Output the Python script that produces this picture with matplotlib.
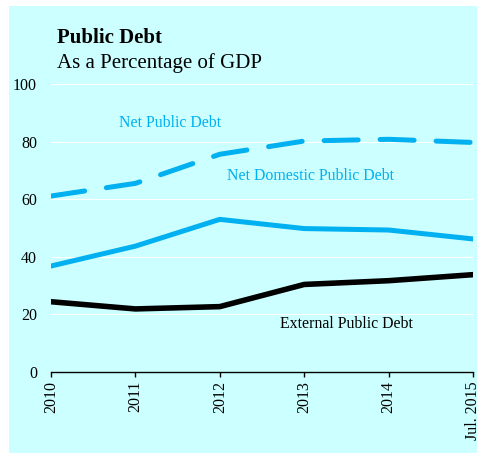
import matplotlib
matplotlib.use("Agg")
import matplotlib.pyplot as plt
from matplotlib.patches import Rectangle

plt.rcParams['font.family'] = ['Liberation Serif', 'DejaVu Serif']

years = ["2010", "2011", "2012", "2013", "2014", "Jul. 2015"]
net_public = [61.1, 65.5, 75.6, 80.2, 80.8, 79.7]
net_domestic = [36.8, 43.7, 53.0, 49.8, 49.3, 46.2]
external = [24.4, 21.9, 22.7, 30.4, 31.7, 33.8]
y_ticks = [0, 20, 40, 60, 80, 100]

bg = "#ccffff"
cyan = "#00b0f0"

fig = plt.figure(figsize=(4.78, 4.55), dpi=100)
fig.patch.set_facecolor("white")
panel = Rectangle((9 / 478, 1 - 453 / 455), (477 - 9) / 478, (453 - 6) / 455,
                  transform=fig.transFigure, facecolor=bg, edgecolor="none", zorder=-10)
fig.patches.append(panel)

ax = fig.add_axes([51 / 478, 83 / 455, (473 - 51) / 478, (372 - 84) / 455])
ax.set_zorder(5)
ax.set_facecolor("none")

x = list(range(len(years)))
ax.plot(x, net_public, color=cyan, lw=3.6, dashes=(6.8, 4.4), dash_capstyle="round",
        solid_capstyle="round", zorder=3)
ax.plot(x, net_domestic, color=cyan, lw=3.6, solid_capstyle="round", zorder=3)
ax.plot(x, external, color="black", lw=4.0, solid_capstyle="round", zorder=3)

ax.set_xlim(0, 5)
ax.set_ylim(0, 100)
ax.set_yticks(y_ticks)
ax.set_yticklabels([str(v) for v in y_ticks], fontsize=11.5)
ax.set_xticks(x)
ax.set_xticklabels(years, rotation=90, fontsize=11.5, va="top", ha="center")

for v in y_ticks[1:]:
    ax.axhline(v, color="white", lw=0.8, zorder=1)

for s in ["top", "right", "left"]:
    ax.spines[s].set_visible(False)
ax.spines["bottom"].set_color("black")
ax.spines["bottom"].set_linewidth(1.0)
ax.spines["bottom"].set_zorder(4)
ax.tick_params(axis="y", length=0, pad=10)
ax.tick_params(axis="x", length=3.5, width=1.0, direction="out", pad=3)

ax.text(1.41, 86.5, "Net Public Debt", color=cyan, fontsize=11.4, ha="center", va="center")
ax.text(3.07, 68.1, "Net Domestic Public Debt", color=cyan, fontsize=11.4, ha="center", va="center")
ax.text(3.5, 16.7, "External Public Debt", color="black", fontsize=11.4, ha="center", va="center")

fig.text(57 / 478, 1 - 38 / 455, "Public Debt", fontsize=15, fontweight="bold", ha="left", va="center")
fig.text(57 / 478, 1 - 63 / 455, "As a Percentage of GDP", fontsize=15, ha="left", va="center")

fig.savefig("out.png", dpi=100, facecolor="white")
